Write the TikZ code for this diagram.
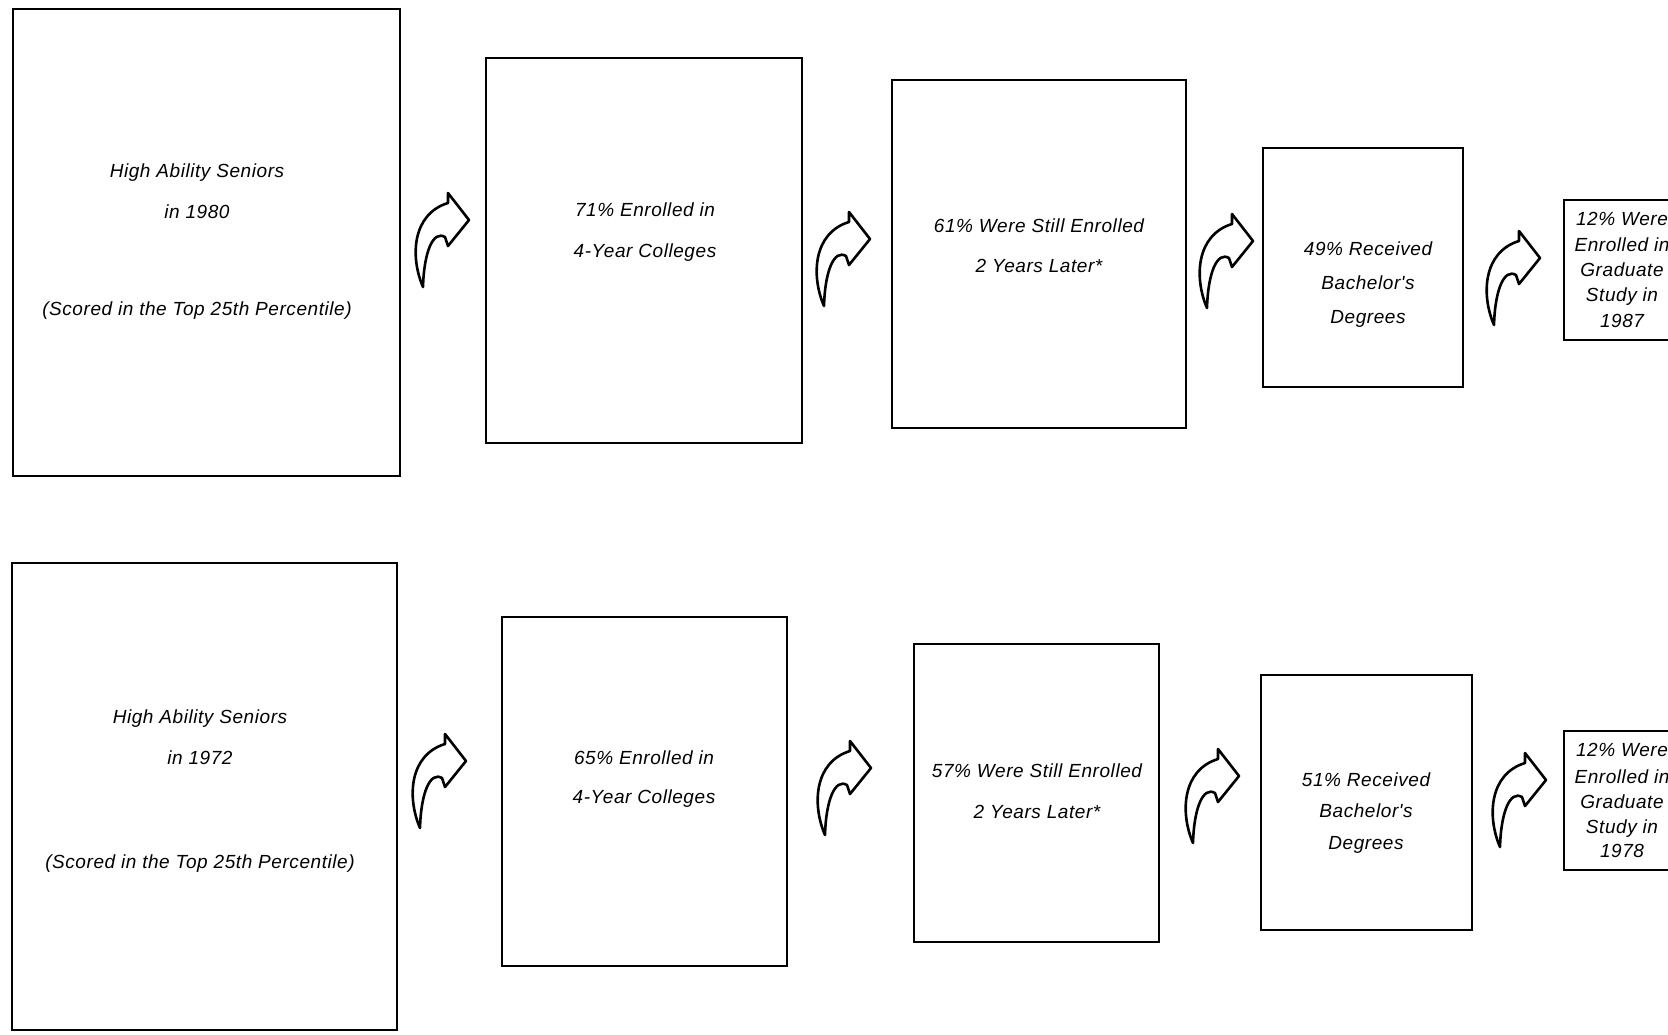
\documentclass[tikz,border=0pt]{standalone}
\usepackage{fontspec}
\newfontfamily\lblfont{Liberation Sans}[LetterSpace=3]
\begin{document}
\begin{tikzpicture}[x=1pt,y=-1pt,
  box/.style={draw=black, line width=1.8pt, fill=none, inner sep=0pt},
  lbl/.style={anchor=base, inner sep=0pt, font=\lblfont\itshape\fontsize{19}{22}\selectfont},
  arrowline/.style={draw=black, fill=white, line width=2.6pt, line join=round},
  curvarrow/.pic={\path[arrowline] (0,0) .. controls (-13,-30) and (-11,-73) .. (25,-84) -- (25,-94) -- (46,-67) -- (25,-41) -- (22,-50) .. controls (10,-57) and (1,-35) .. cycle;}
]
\useasboundingbox (0,0) rectangle (1668,1034);
\clip (0,0) rectangle (1668,1034);

% ---------- top row ----------
\node[box, minimum width=387pt, minimum height=467pt] (t1) at (206.5,242.5) {};
\node[box, minimum width=316pt, minimum height=385pt] (t2) at (644,250.5) {};
\node[box, minimum width=294pt, minimum height=348pt] (t3) at (1039,254) {};
\node[box, minimum width=200pt, minimum height=239pt] (t4) at (1363,267.5) {};
\node[box, minimum width=110pt, minimum height=140pt] (t5) at (1619,270) {};

\node[lbl] (t1a) at (197,177) {High Ability Seniors};
\node[lbl] (t1b) at (197,218) {in 1980};
\node[lbl] (t1c) at (197,315) {(Scored in the Top 25th Percentile)};
\node[lbl] (t2a) at (645,216) {71\% Enrolled in};
\node[lbl] (t2b) at (645,257) {4-Year Colleges};
\node[lbl] (t3a) at (1039,232) {61\% Were Still Enrolled};
\node[lbl] (t3b) at (1039,272) {2 Years Later*};
\node[lbl] (t4a) at (1368,255) {49\% Received};
\node[lbl] (t4b) at (1368,289) {Bachelor's};
\node[lbl] (t4c) at (1368,323) {Degrees};
\node[lbl] (t5a) at (1622,225) {12\% Were};
\node[lbl] (t5b) at (1622,251) {Enrolled in};
\node[lbl] (t5c) at (1622,276) {Graduate};
\node[lbl] (t5d) at (1622,301) {Study in};
\node[lbl] (t5e) at (1622,327) {1987};

\coordinate (ta1) at (423,287);
\coordinate (ta2) at (824,306);
\coordinate (ta3) at (1207,308);
\coordinate (ta4) at (1494,325);
\foreach \c in {ta1,ta2,ta3,ta4} \pic at (\c) {curvarrow};

% ---------- bottom row ----------
\node[box, minimum width=385pt, minimum height=467pt] (u1) at (204.5,796.5) {};
\node[box, minimum width=285pt, minimum height=349pt] (u2) at (644.5,791.5) {};
\node[box, minimum width=245pt, minimum height=298pt] (u3) at (1036.5,793) {};
\node[box, minimum width=211pt, minimum height=255pt] (u4) at (1366.5,802.5) {};
\node[box, minimum width=110pt, minimum height=139pt] (u5) at (1619,800.5) {};

\node[lbl] (u1a) at (200,723) {High Ability Seniors};
\node[lbl] (u1b) at (200,764) {in 1972};
\node[lbl] (u1c) at (200,868) {(Scored in the Top 25th Percentile)};
\node[lbl] (u2a) at (644,764) {65\% Enrolled in};
\node[lbl] (u2b) at (644,803) {4-Year Colleges};
\node[lbl] (u3a) at (1037,777) {57\% Were Still Enrolled};
\node[lbl] (u3b) at (1037,818) {2 Years Later*};
\node[lbl] (u4a) at (1366,786) {51\% Received};
\node[lbl] (u4b) at (1366,817) {Bachelor's};
\node[lbl] (u4c) at (1366,849) {Degrees};
\node[lbl] (u5a) at (1622,756) {12\% Were};
\node[lbl] (u5b) at (1622,783) {Enrolled in};
\node[lbl] (u5c) at (1622,808) {Graduate};
\node[lbl] (u5d) at (1622,833) {Study in};
\node[lbl] (u5e) at (1622,857) {1978};

\coordinate (ua1) at (420,828);
\coordinate (ua2) at (825,835);
\coordinate (ua3) at (1193,843);
\coordinate (ua4) at (1500,847);
\foreach \c in {ua1,ua2,ua3,ua4} \pic at (\c) {curvarrow};
\end{tikzpicture}
\end{document}
